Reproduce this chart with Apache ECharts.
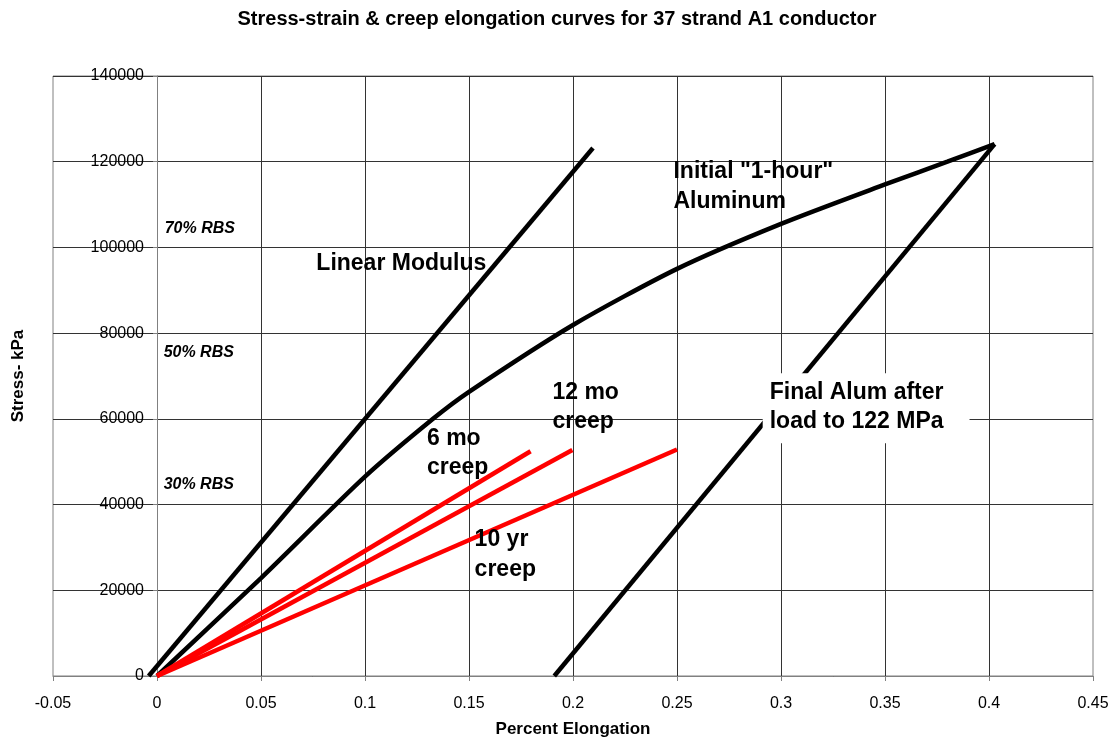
<!DOCTYPE html>
<html>
<head>
<meta charset="utf-8">
<script src="https://cdn.jsdelivr.net/npm/echarts@6/dist/echarts.min.js"></script>
<style>
html,body{margin:0;padding:0;background:#fff;}
#chart{width:1114px;height:738px;}
</style>
</head>
<body>
<div id="chart"></div>
<script>
// ---- data ----
var linearModulus = [[-0.004, 0], [0.2096, 123200]];
var initialAluminum = [[0, 0], [0.05, 22850], [0.1, 46500], [0.1327, 60000], [0.15, 66300], [0.2, 81900], [0.25, 95000], [0.3, 105500], [0.35, 114700], [0.38, 120000], [0.4027, 124100]];
var finalAlum = [[0.191, 0], [0.4027, 124100]];
var creep6mo = [[0, 0], [0.1796, 52450]];
var creep12mo = [[0, 0], [0.1997, 52750]];
var creep10yr = [[0, 0], [0.25, 52850]];

var xMin = -0.05, xMax = 0.45, xStep = 0.05;
var yMin = 0, yMax = 140000, yStep = 20000;

var titleText = 'Stress-strain & creep elongation curves for 37 strand A1 conductor';
var xName = 'Percent Elongation';
var yName = 'Stress- kPa';

// annotations: [text, x, y (data coords of left / first-line centre)]
var bigLabels = [
  ['Linear Modulus', 0.0766, 96310],
  ['Initial "1-hour"\nAluminum', 0.2483, 117650],
  ['12 mo\ncreep', 0.1901, 66230],
  ['6 mo\ncreep', 0.1298, 55390],
  ['10 yr\ncreep', 0.1527, 31720]
];
var boxLabel = ['Final Alum after\nload to 122 MPa', 0.2912, 70660];
var rbsLabels = [
  ['70% RBS', 0.0037, 104400],
  ['50% RBS', 0.0032, 75480],
  ['30% RBS', 0.0032, 44660]
];

var FONT = '"Liberation Sans", Arial, Helvetica, sans-serif';
var chart = echarts.init(document.getElementById('chart'), null, {renderer: 'canvas'});

var GRID = {left: 53, right: 21, top: 76, bottom: 62};
var gridWidth = 1114 - GRID.left - GRID.right;
// y axis sits on x = 0
var yAxisOffset = -((0 - xMin) / (xMax - xMin)) * gridWidth;

function lineSeries(name, data, color) {
  return {
    name: name, type: 'line', data: data, showSymbol: false, symbol: 'none',
    lineStyle: {color: color, width: 4.5}, z: 3, animation: false
  };
}

chart.setOption({
  animation: false,
  backgroundColor: '#fff',
  title: {
    text: titleText, left: 'center', top: 9, padding: 0,
    textStyle: {fontFamily: FONT, fontSize: 20, fontWeight: 'bold', color: '#000'}
  },
  grid: {left: GRID.left, right: GRID.right, top: GRID.top, bottom: GRID.bottom,
    containLabel: false, outerBoundsMode: 'none',
    show: true, borderColor: '#808080', borderWidth: 1, backgroundColor: 'transparent'},
  xAxis: {
    type: 'value', min: xMin, max: xMax, interval: xStep,
    name: xName, nameLocation: 'middle', nameGap: 45, nameMoveOverlap: false,
    nameTextStyle: {fontFamily: FONT, fontSize: 17, fontWeight: 'bold', color: '#000'},
    axisLine: {onZero: false, lineStyle: {color: '#808080', width: 1}},
    axisTick: {show: true, length: 5, inside: false, lineStyle: {color: '#808080'}},
    axisLabel: {fontFamily: FONT, fontSize: 16, color: '#000', margin: 20},
    splitLine: {show: true, showMinLine: false, showMaxLine: false, lineStyle: {color: '#333', width: 1}}
  },
  yAxis: {
    type: 'value', min: yMin, max: yMax, interval: yStep, position: 'left', offset: yAxisOffset,
    name: yName, nameLocation: 'middle', nameGap: 130, nameRotate: 90, nameMoveOverlap: false,
    nameTextStyle: {fontFamily: FONT, fontSize: 17, fontWeight: 'bold', color: '#000'},
    axisLine: {show: true, onZero: false, lineStyle: {color: '#808080', width: 1}},
    axisTick: {show: true, length: 4, inside: false, lineStyle: {color: '#808080'}},
    axisLabel: {fontFamily: FONT, fontSize: 16, color: '#000', margin: 13,
      formatter: function (v) { return String(v); }},
    splitLine: {show: true, lineStyle: {color: '#333', width: 1}}
  },
  series: [
    lineSeries('Linear Modulus', linearModulus, '#000'),
    Object.assign(lineSeries('Initial 1-hour Aluminum', initialAluminum, '#000'), {smooth: 0.25}),
    lineSeries('Final Alum', finalAlum, '#000'),
    lineSeries('6 mo creep', creep6mo, '#ff0000'),
    lineSeries('12 mo creep', creep12mo, '#ff0000'),
    lineSeries('10 yr creep', creep10yr, '#ff0000')
  ]
});

function px(x, y) { return chart.convertToPixel({gridIndex: 0}, [x, y]); }

var graphics = [];
bigLabels.forEach(function (l) {
  var p = px(l[1], l[2]);
  var lh = 29.5;
  graphics.push({
    type: 'text', z: 100,
    style: {
      text: l[0], x: p[0], y: p[1] - lh / 2, textAlign: 'left', textVerticalAlign: 'top',
      font: 'bold 23px ' + FONT, fill: '#000', lineHeight: lh
    }
  });
});
(function () {
  var p = px(boxLabel[1], boxLabel[2]);
  graphics.push({
    type: 'text', z: 100,
    style: {
      text: boxLabel[0], x: p[0], y: p[1], textAlign: 'left', textVerticalAlign: 'top',
      font: 'bold 23px ' + FONT, fill: '#000', lineHeight: 29,
      backgroundColor: '#fff', padding: [4.5, 26, 7.5, 7]
    }
  });
})();
rbsLabels.forEach(function (l) {
  var p = px(l[1], l[2]);
  graphics.push({
    type: 'text', z: 100,
    style: {
      text: l[0], x: p[0], y: p[1], textAlign: 'left', textVerticalAlign: 'middle',
      font: 'italic bold 16px ' + FONT, fill: '#000'
    }
  });
});
chart.setOption({graphic: graphics});
</script>
</body>
</html>
